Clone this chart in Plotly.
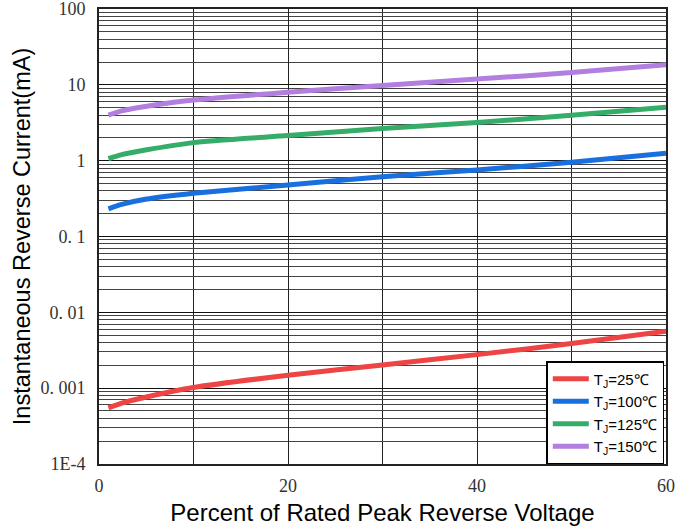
import plotly.graph_objects as go

x_pct = [1, 2.4, 4.9, 10, 20, 30, 40, 50, 60]
ir_25 = [5.5e-4, 6.35e-4, 7.6e-4, 1.02e-3, 1.48e-3, 2.02e-3, 2.77e-3, 3.87e-3, 5.63e-3]
ir_100 = [0.232, 0.265, 0.309, 0.371, 0.478, 0.615, 0.754, 0.953, 1.25]
ir_125 = [1.06, 1.2, 1.38, 1.73, 2.14, 2.65, 3.18, 3.98, 5.07]
ir_150 = [4.0, 4.54, 5.17, 6.3, 8.0, 9.8, 11.9, 14.5, 18.4]

series_names = ["T<sub>J</sub>=25℃", "T<sub>J</sub>=100℃", "T<sub>J</sub>=125℃", "T<sub>J</sub>=150℃"]
series_vals = [ir_25, ir_100, ir_125, ir_150]
colors = ["#ee4444", "#1a6fdf", "#36ac69", "#b27ee0"]

y_tickvals = [1e-4, 1e-3, 1e-2, 1e-1, 1, 10, 100]
y_ticktext = ["1E-4", "0. 001", "0. 01", "0. 1", "1", "10", "100"]
x_tickvals = [0, 20, 40, 60]

fig = go.Figure()
for name, vals, c in zip(series_names, series_vals, colors):
    fig.add_trace(go.Scatter(x=x_pct, y=vals, mode="lines", name=name,
                             line=dict(color=c, width=5, shape="spline", smoothing=0.6)))

tick_font = dict(family="Liberation Serif", size=18, color="#333333")
fig.update_layout(
    width=690, height=531,
    margin=dict(l=99, r=24, t=9, b=67),
    paper_bgcolor="white", plot_bgcolor="white",
    font=dict(family="Liberation Sans", color="black"),
    legend=dict(x=0.997, xanchor="right", y=0, yanchor="bottom",
                bgcolor="white", bordercolor="black", borderwidth=1.5,
                font=dict(family="Liberation Sans", size=15, color="black"),
                itemwidth=36, tracegroupgap=0),
    xaxis=dict(range=[0, 60], tickvals=x_tickvals, tickfont=tick_font, automargin=False,
               showgrid=True, gridcolor="#222222", gridwidth=1.2,
               minor=dict(dtick=10, showgrid=True, gridcolor="#222222", gridwidth=1.2),
               showline=True, linecolor="#222222", linewidth=2, mirror=True,
               ticks="", ticklabelstandoff=4, ticklabeloverflow="allow", zeroline=False,
               title=dict(text="Percent of Rated Peak Reverse Voltage",
                          font=dict(family="Liberation Sans", size=24), standoff=10)),
    yaxis=dict(type="log", range=[-4, 2], tickvals=y_tickvals, ticktext=y_ticktext,
               tickfont=tick_font, automargin=False,
               showgrid=True, gridcolor="#111111", gridwidth=1.3,
               minor=dict(dtick="D1", showgrid=True, gridcolor="#444444", gridwidth=1.2, ticks=""),
               showline=True, linecolor="#222222", linewidth=2, mirror=True,
               ticks="", ticklabelstandoff=8, ticklabeloverflow="allow", zeroline=False,
               title=dict(text="Instantaneous Reverse Current(mA)",
                          font=dict(family="Liberation Sans", size=23.5), standoff=3)),
)

fig.write_html("out.html", config={"displayModeBar": False},
               post_script="document.body.style.margin='0px';")
